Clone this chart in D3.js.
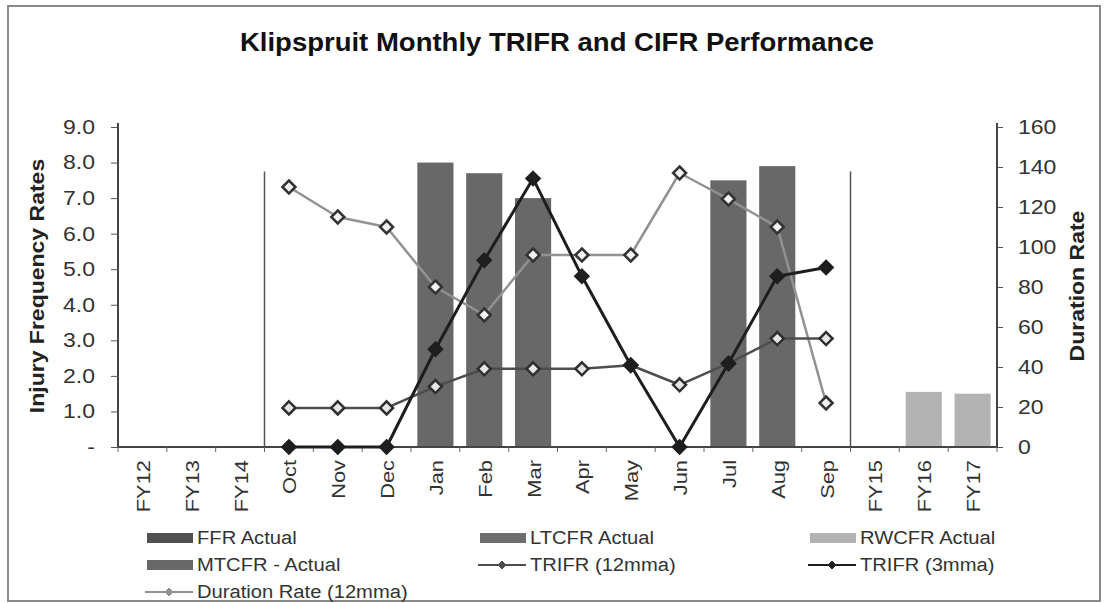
<!DOCTYPE html>
<html>
<head>
<meta charset="utf-8">
<script src="https://cdn.jsdelivr.net/npm/d3@7"></script>
<style>
  html, body { margin: 0; padding: 0; background: #fff; }
  svg { display: block; }
  text { font-family: "Liberation Sans", Arial, sans-serif; }
</style>
</head>
<body>
<svg id="chart" width="1104" height="603"></svg>
<script>
// Reporting periods: three prior financial years, the twelve months, then later years
const categories = ["FY12", "FY13", "FY14", "Oct", "Nov", "Dec", "Jan", "Feb", "Mar",
                    "Apr", "May", "Jun", "Jul", "Aug", "Sep", "FY15", "FY16", "FY17"];

// Bar series (left axis); null = no value for that period
const ffrActual   = [null, null, null, null, null, null, null, null, null, null, null, null, null, null, null, null, null, null];
const ltcfrActual = [null, null, null, null, null, null, null, null, null, null, null, null, null, null, null, null, null, null];
const mtcfrActual = [null, null, null, null, null, null, 8.0, 7.7, 7.0, null, null, null, 7.5, 7.9, null, null, null, null];
const rwcfrActual = [null, null, null, null, null, null, null, null, null, null, null, null, null, null, null, null, 1.55, 1.5];

// Line series
const trifr12 = [null, null, null, 1.1, 1.1, 1.1, 1.7, 2.2, 2.2, 2.2, 2.3, 1.75, 2.35, 3.05, 3.05, null, null, null]; // left axis
const trifr3  = [null, null, null, 0, 0, 0, 2.75, 5.25, 7.55, 4.8, 2.3, 0, 2.35, 4.8, 5.05, null, null, null];       // left axis
const durationRate = [null, null, null, 130, 115, 110, 80, 66, 96, 96, 96, 137, 124, 110, 22, null, null, null];   // right axis

// Axis ticks
const leftTicks  = [0, 1, 2, 3, 4, 5, 6, 7, 8, 9];
const rightTicks = [0, 20, 40, 60, 80, 100, 120, 140, 160];

const svg = d3.select("#chart");
const FONT_STRETCH = 1.15;

// Widen text along its run a little (the chart uses a broad sans face)
function widen(sel, k) {
  sel.each(function () {
    const len = this.getComputedTextLength();
    d3.select(this).attr("textLength", len * k).attr("lengthAdjust", "spacingAndGlyphs");
  });
  return sel;
}

// Square diamond marker of half-diagonal r
const diamondPath = r => `M0,${-r}L${r},0L0,${r}L${-r},0Z`;

const margin = { left: 118, right: 997, top: 127, bottom: 447 };

const x = d3.scaleBand().domain(categories)
  .range([margin.left, margin.right]).paddingInner(0.26).paddingOuter(0.13);
const step = x.step();
const cx = c => x(c) + x.bandwidth() / 2;
const edge = i => margin.left + i * step;   // boundary before category i

const yL = d3.scaleLinear().domain([0, 9]).range([margin.bottom, margin.top]);
const yR = d3.scaleLinear().domain([0, 160]).range([margin.bottom, margin.top]);

// Outer frame
svg.append("rect").attr("x", 8).attr("y", 6).attr("width", 1092).attr("height", 595)
  .attr("fill", "#fff").attr("stroke", "#8a8a8a").attr("stroke-width", 2);

// Title
svg.append("text").attr("x", 557).attr("y", 51).attr("text-anchor", "middle")
  .attr("font-size", 25).attr("font-weight", "bold").attr("fill", "#111")
  .text("Klipspruit Monthly TRIFR and CIFR Performance")
  .call(widen, 1.1);

// Dividers between yearly and monthly periods
const monthStart = categories.indexOf("Oct");
const monthEnd = categories.indexOf("FY15");
svg.append("g").selectAll("line").data([monthStart, monthEnd]).join("line")
  .attr("x1", d => edge(d)).attr("x2", d => edge(d))
  .attr("y1", yL(7.75)).attr("y2", yL(0))
  .attr("stroke", "#555").attr("stroke-width", 1.5);

// Bars
const barSeries = [
  { name: "FFR Actual",     values: ffrActual,   color: "#505050" },
  { name: "LTCFR Actual",   values: ltcfrActual, color: "#6e6e6e" },
  { name: "MTCFR - Actual", values: mtcfrActual, color: "#686868" },
  { name: "RWCFR Actual",   values: rwcfrActual, color: "#b3b3b3" }
];
barSeries.forEach(s => {
  const pts = categories.map((c, i) => ({ c, v: s.values[i] })).filter(d => d.v != null);
  svg.append("g").selectAll("rect").data(pts).join("rect")
    .attr("x", d => x(d.c)).attr("width", x.bandwidth())
    .attr("y", d => yL(d.v)).attr("height", d => yL(0) - yL(d.v))
    .attr("fill", s.color);
});

// X axis
svg.append("line").attr("x1", margin.left).attr("x2", margin.right)
  .attr("y1", yL(0)).attr("y2", yL(0)).attr("stroke", "#444").attr("stroke-width", 2);
svg.append("g").selectAll("line").data(d3.range(categories.length + 1)).join("line")
  .attr("x1", d => edge(d)).attr("x2", d => edge(d))
  .attr("y1", yL(0)).attr("y2", yL(0) + 5).attr("stroke", "#666").attr("stroke-width", 1);
svg.append("g").selectAll("text").data(categories).join("text")
  .attr("transform", d => `translate(${cx(d) + 1},${yL(0) + 13}) rotate(-90)`)
  .attr("text-anchor", "end").attr("dominant-baseline", "central")
  .attr("font-size", 19).attr("fill", "#333")
  .text(d => d)
  .call(widen, FONT_STRETCH);

// Left axis
const leftAxis = d3.axisLeft(yL).tickValues(leftTicks)
  .tickFormat(d => d === 0 ? "-" : d3.format(".1f")(d)).tickSize(7).tickPadding(16);
const gL = svg.append("g").attr("transform", `translate(${margin.left},0)`).call(leftAxis);
gL.select(".domain").attr("stroke", "#444").attr("stroke-width", 2).attr("d", `M0,${yL(9) - 4}V${yL(0)}`);
gL.selectAll(".tick line").attr("stroke", "#555").attr("x2", -7);
gL.selectAll(".tick text").attr("font-size", 20).attr("fill", "#333")
  .attr("font-family", "Liberation Sans, Arial, sans-serif").call(widen, FONT_STRETCH);

// Right axis
const rightAxis = d3.axisRight(yR).tickValues(rightTicks).tickFormat(d3.format("d"))
  .tickSize(6).tickPadding(15);
const gR = svg.append("g").attr("transform", `translate(${margin.right},0)`).call(rightAxis);
gR.select(".domain").attr("stroke", "#444").attr("stroke-width", 2).attr("d", `M0,${yR(160) - 4}V${yR(0)}`);
gR.selectAll(".tick line").attr("stroke", "#555");
gR.selectAll(".tick text").attr("font-size", 20).attr("fill", "#333")
  .attr("font-family", "Liberation Sans, Arial, sans-serif").call(widen, FONT_STRETCH);

// Axis titles
svg.append("text").attr("transform", `translate(37,${(yL(0) + yL(9)) / 2 - 1}) rotate(-90)`)
  .attr("text-anchor", "middle").attr("dominant-baseline", "central")
  .attr("font-size", 20).attr("font-weight", "bold").attr("fill", "#222")
  .text("Injury Frequency Rates").call(widen, FONT_STRETCH);
svg.append("text").attr("transform", `translate(1077,${(yR(0) + yR(160)) / 2 - 1}) rotate(-90)`)
  .attr("text-anchor", "middle").attr("dominant-baseline", "central")
  .attr("font-size", 20).attr("font-weight", "bold").attr("fill", "#222")
  .text("Duration Rate").call(widen, FONT_STRETCH);

// Line series with diamond markers
const lineSeries = [
  { name: "TRIFR (12mma)", values: trifr12, scale: yL, line: "#4d4d4d", width: 2.5, fill: "#e6e6e6", edge: "#2e2e2e" },
  { name: "TRIFR (3mma)", values: trifr3, scale: yL, line: "#1e1e1e", width: 3, fill: "#1e1e1e", edge: "#1e1e1e" },
  { name: "Duration Rate (12mma)", values: durationRate, scale: yR, line: "#929292", width: 2.5, fill: "#f4f4f4", edge: "#333" }
];
const drawOrder = [lineSeries[2], lineSeries[0], lineSeries[1]];
drawOrder.forEach(s => {
  const pts = categories.map((c, i) => ({ c, v: s.values[i] })).filter(d => d.v != null);
  const line = d3.line().x(d => cx(d.c)).y(d => s.scale(d.v));
  svg.append("path").datum(pts).attr("d", line)
    .attr("fill", "none").attr("stroke", s.line).attr("stroke-width", s.width)
    .attr("stroke-linejoin", "round");
});
drawOrder.forEach(s => {
  const pts = categories.map((c, i) => ({ c, v: s.values[i] })).filter(d => d.v != null);
  svg.append("g").selectAll("path").data(pts).join("path")
    .attr("transform", d => `translate(${cx(d.c)},${s.scale(d.v)})`)
    .attr("d", diamondPath(6.5))
    .attr("fill", s.fill).attr("stroke", s.edge).attr("stroke-width", 2.5)
    .attr("stroke-linejoin", "miter");
});

// Legend
const legendItems = [
  { name: "FFR Actual", kind: "bar", s: barSeries[0] },
  { name: "LTCFR Actual", kind: "bar", s: barSeries[1] },
  { name: "RWCFR Actual", kind: "bar", s: barSeries[3] },
  { name: "MTCFR - Actual", kind: "bar", s: barSeries[2] },
  { name: "TRIFR (12mma)", kind: "line", s: lineSeries[0] },
  { name: "TRIFR (3mma)", kind: "line", s: lineSeries[1] },
  { name: "Duration Rate (12mma)", kind: "line", s: lineSeries[2] }
];
const legendCols = [147, 480, 810];
const legendRowY = [538, 565, 592];
legendItems.forEach((it, i) => {
  const gx = legendCols[i % 3], gy = legendRowY[Math.floor(i / 3)];
  const g = svg.append("g").attr("transform", `translate(${gx},${gy})`);
  if (it.kind === "bar") {
    g.append("rect").attr("x", 0).attr("y", -5).attr("width", 46).attr("height", 10)
      .attr("fill", it.s.color);
  } else {
    g.append("line").attr("x1", -2).attr("x2", 46).attr("y1", 0).attr("y2", 0)
      .attr("stroke", it.s.line).attr("stroke-width", 2);
    g.append("path").attr("transform", "translate(22,0)").attr("d", diamondPath(4))
      .attr("fill", it.s.line).attr("stroke", it.s.line).attr("stroke-width", 1);
  }
  g.append("text").attr("x", 50).attr("y", 0).attr("dominant-baseline", "central")
    .attr("font-size", 18).attr("fill", "#333").text(it.name)
    .call(widen, 1.12);
});
</script>
</body>
</html>
